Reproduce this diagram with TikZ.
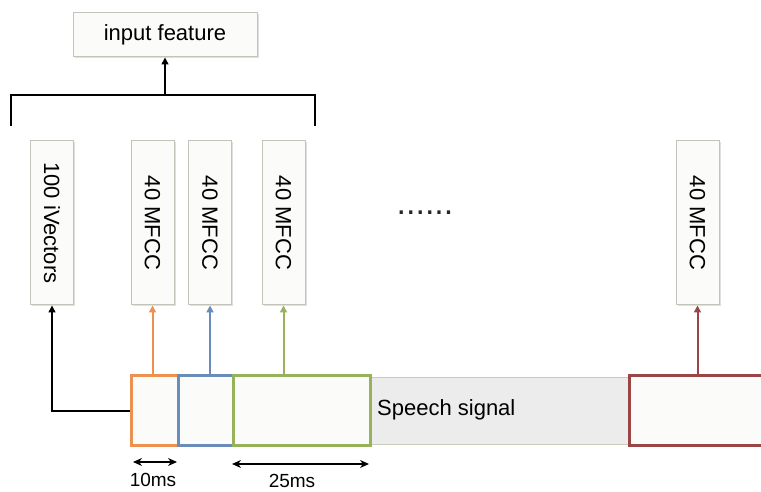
\documentclass[tikz,border=0pt]{standalone}
\usepackage{fontspec}
\setmainfont{Liberation Sans}
\usetikzlibrary{arrows.meta,shadows}

\definecolor{boxline}{RGB}{195,195,185}
\definecolor{boxfill}{RGB}{251,251,249}
\definecolor{frameorange}{RGB}{236,145,80}
\definecolor{frameblue}{RGB}{105,140,185}
\definecolor{framegreen}{RGB}{150,178,90}
\definecolor{framered}{RGB}{155,70,70}
\definecolor{sigfill}{RGB}{236,236,236}
\definecolor{sigline}{RGB}{200,205,185}

\tikzset{
  featbox/.style={draw=boxline,fill=boxfill,line width=1pt,rotate=-90,
    minimum width=164,minimum height=43,inner sep=0pt,
    drop shadow={shadow xshift=1.5pt,shadow yshift=-1.5pt,opacity=0.25},
    font=\fontsize{22}{26}\selectfont},
  framebox/.style={fill=boxfill,line width=3pt,minimum width=137,
    minimum height=70,inner sep=0pt,anchor=west},
  uparrow/.style={line width=1.5pt,-{Triangle[length=7pt,width=7pt]}},
  colarrow/.style={uparrow,line width=2pt},
  spanarrow/.style={line width=1.3pt,
    {Stealth[length=9pt,width=8pt]}-{Stealth[length=9pt,width=8pt]}}
}

\begin{document}
\begin{tikzpicture}[x=1pt,y=1pt]
  \useasboundingbox (0,0) rectangle (761,492);
  \clip (0,0) rectangle (761,492);

  % top box and bracket
  \node[draw=boxline,fill=boxfill,line width=1pt,minimum width=184,minimum height=44,
    drop shadow={shadow xshift=1.5pt,shadow yshift=-1.5pt,opacity=0.25},
    font=\fontsize{22}{26}\selectfont] (inp) at (165,457) {input feature};
  \coordinate (bl) at (11,366);
  \coordinate (br) at (315,366);
  \coordinate (bt) at (165,397);
  \draw[line width=2pt] (bl) |- (bt) -| (br);
  \draw[uparrow] (bt) -- (inp.south);

  % feature columns
  \node[featbox] (ivec) at (52,269) {100 iVectors};
  \node[featbox] (mfa) at (152.5,269) {40 MFCC};
  \node[featbox] (mfb) at (210,269) {40 MFCC};
  \node[featbox] (mfc) at (283.5,269) {40 MFCC};
  \node[featbox] (mfd) at (697.5,269) {40 MFCC};
  \node[font=\fontsize{34}{40}\selectfont,text=black!85] (dots) at (425,279) {......};

  % signal and frames
  \node[draw=sigline,fill=sigfill,line width=1pt,minimum width=700,minimum height=67,
    inner sep=0pt,anchor=west] (sig) at (130,81) {};
  \node[font=\fontsize{22}{26}\selectfont,anchor=west,inner sep=0pt] (siglbl) at (377,82) {Speech signal};
  \node[framebox,draw=frameorange] (fo) at (130,81) {};
  \node[framebox,draw=frameblue] (fb) at (177,81) {};
  \node[framebox,draw=framegreen] (fg) at (232,81) {};
  \node[framebox,draw=framered] (fr) at (628,81) {};

  % connections
  \draw[uparrow] (fo.west) -| (ivec.east);
  \draw[colarrow,frameorange] (fo.north -| mfa) -- (mfa.east);
  \draw[colarrow,frameblue] (fb.north -| mfb) -- (mfb.east);
  \draw[colarrow,framegreen] (fg.north -| mfc) -- (mfc.east);
  \draw[colarrow,framered] (fr.north -| mfd) -- (mfd.east);

  % spans
  \coordinate (sa) at (133,30);
  \coordinate (sb) at (177,30);
  \coordinate (sc) at (232,28);
  \coordinate (sd) at (369,28);
  \draw[spanarrow] (sa) -- (sb);
  \draw[spanarrow] (sc) -- (sd);
  \node[font=\fontsize{19}{22}\selectfont] (ta) at (153,12) {10ms};
  \node[font=\fontsize{19}{22}\selectfont] (tb) at (292,11) {25ms};
\end{tikzpicture}
\end{document}
